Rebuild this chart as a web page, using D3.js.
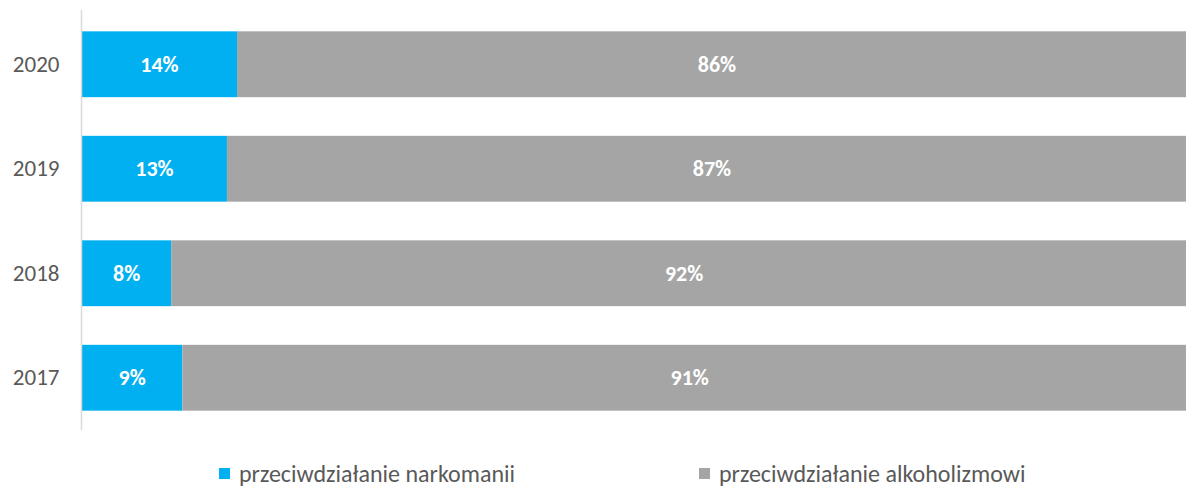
<!DOCTYPE html>
<html>
<head>
<meta charset="utf-8">
<script src="https://cdn.jsdelivr.net/npm/d3@7"></script>
<style>
  body { margin: 0; background: #fff; }
  svg { display: block; font-family: Calibri, Carlito, Lato, sans-serif; }
</style>
</head>
<body>
<svg width="1186" height="488"></svg>
<script>
// data
const years = ["2020", "2019", "2018", "2017"];
const narkomanii = [0.139, 0.130, 0.080, 0.090];
const alkoholizm = [0.861, 0.870, 0.920, 0.910];
const seriesNames = ["przeciwdziałanie narkomanii", "przeciwdziałanie alkoholizmowi"];
const colors = ["#00b0f0", "#a5a5a5"];

const svg = d3.select("svg"),
    width = +svg.attr("width"),
    height = +svg.attr("height");

const x = d3.scaleLinear().domain([0, 1]).range([82, 1197]);
const y = d3.scaleBand().domain(years).range([12, 430])
    .paddingInner(0.37).paddingOuter(0.185);

const rows = years.map((yr, i) => ({ year: yr, vals: [narkomanii[i], alkoholizm[i]] }));

const g = svg.append("g");

rows.forEach(r => {
  let start = 0;
  r.vals.forEach((v, k) => {
    g.append("rect")
      .attr("x", x(start))
      .attr("y", y(r.year))
      .attr("width", x(start + v) - x(start))
      .attr("height", y.bandwidth())
      .attr("fill", colors[k]);
    g.append("text")
      .attr("x", (x(start) + x(start + v)) / 2)
      .attr("y", y(r.year) + y.bandwidth() / 2)
      .attr("dy", "0.35em")
      .attr("text-anchor", "middle")
      .attr("fill", "#fff")
      .attr("font-weight", "bold")
      .attr("font-size", 22)
      .text(Math.round(v * 100) + "%");
    start += v;
  });
});

// y axis
const yAxis = svg.append("g")
    .attr("transform", "translate(81.5,0)")
    .call(d3.axisLeft(y).tickSize(0).tickPadding(22));
yAxis.select(".domain").attr("stroke", "#d9d9d9").attr("stroke-width", 1.5)
    .attr("d", "M0,10V430");
yAxis.selectAll("text").attr("font-size", 23).attr("fill", "#595959")
    .attr("font-family", "Calibri, Carlito, Lato, sans-serif");

// legend
const legendX = [219, 699];
const legend = svg.append("g");
seriesNames.forEach((name, i) => {
  legend.append("rect")
    .attr("x", legendX[i]).attr("y", 468)
    .attr("width", 11).attr("height", 11)
    .attr("fill", colors[i]);
  legend.append("text")
    .attr("x", legendX[i] + 20).attr("y", 474)
    .attr("dy", "0.35em")
    .attr("font-size", 24)
    .attr("fill", "#595959")
    .text(name);
});
</script>
</body>
</html>
